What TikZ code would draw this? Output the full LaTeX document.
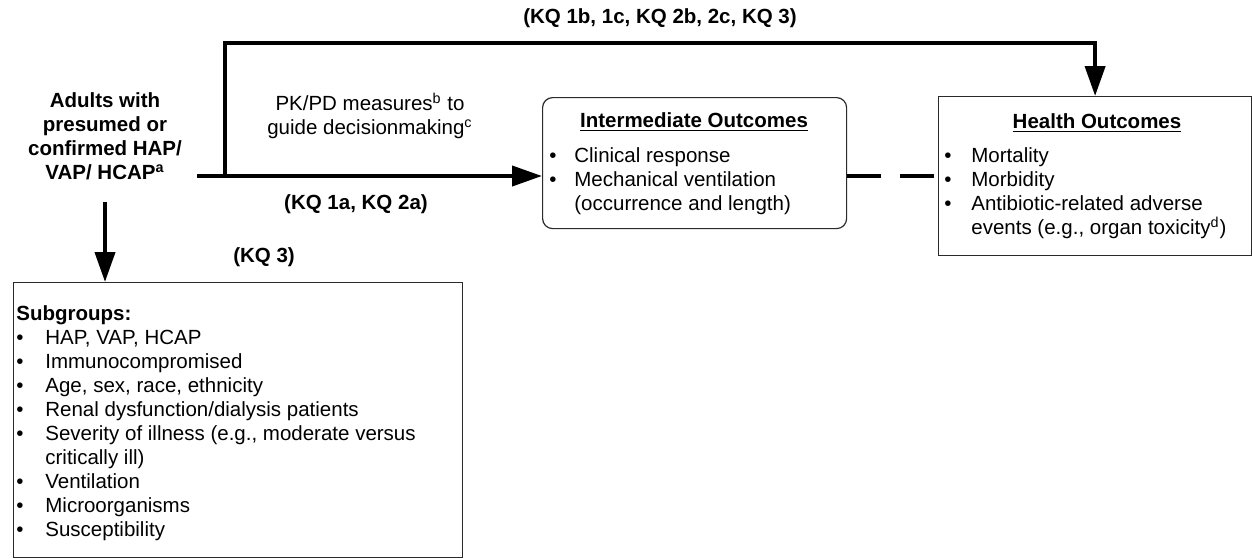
\documentclass[tikz,border=0pt]{standalone}
\usepackage{fontspec}
\setmainfont{Liberation Sans}
\usetikzlibrary{positioning, arrows.meta, calc}
\definecolor{clrline}{HTML}{000000}
\definecolor{clrframe}{HTML}{2A2A2A}
\definecolor{clrtext}{HTML}{000000}

\begin{document}
\begin{tikzpicture}[
    x=0.5pt, y=-0.5pt,
    every node/.style={font=\fontsize{10.25}{12}\selectfont, text=clrtext},
    box/.style={draw=clrframe, line width=0.6pt, inner sep=0, anchor=north west},
    arrow/.style={-{Triangle[length=15pt, width=10pt]}, color=clrline, line width=2pt},
    dashline/.style={color=clrline, line width=2pt, dash pattern=on 17pt off 9.5pt},
    kqlabel/.style={font=\fontsize{10.25}{12}\selectfont\bfseries},
    listtext/.style={inner sep=0, anchor=base west, align=left},
    title/.style={inner sep=0, anchor=base, font=\fontsize{10.25}{12}\selectfont\bfseries},
]
\useasboundingbox (0,0) rectangle (1252,558);
% boxes
\node[box, rounded corners=5pt, minimum width=152pt, minimum height=65.5pt] (n_3) at (542,97) {};
\node[box, minimum width=156.5pt, minimum height=79.5pt] (n_4) at (938,96) {};
\node[box, minimum width=224.5pt, minimum height=137.5pt] (n_5) at (13,282) {};
% population
\node[align=center, inner sep=0, font=\fontsize{10.25}{12}\selectfont\bfseries] (n_1) at (105,136.5)
  {Adults with\\presumed or\\confirmed HAP/\\VAP/ HCAP\textsuperscript{a}};
\node[align=center, inner sep=0] (n_2) at (370,116)
  {PK/PD measures\textsuperscript{b} to\\guide decisionmaking\textsuperscript{c}};
% box contents
\node[title] (n_3_title) at (694,127) {\underline{Intermediate Outcomes}};
\node[listtext] (n_3_list) at (549,162) {\begin{tabular}[t]{@{}p{12.5pt}@{}l@{}}
  \textbullet & Clinical response\\
  \textbullet & Mechanical ventilation\\
              & (occurrence and length)
\end{tabular}};
\node[title] (n_4_title) at (1097,128) {\underline{Health Outcomes}};
\node[listtext] (n_4_list) at (944,162) {\begin{tabular}[t]{@{}p{13.5pt}@{}l@{}}
  \textbullet & Mortality\\
  \textbullet & Morbidity\\
  \textbullet & Antibiotic-related adverse\\
              & events (e.g., organ toxicity\textsuperscript{d})
\end{tabular}};
\node[listtext] (n_5_list) at (16,320) {\begin{tabular}[t]{@{}p{14.5pt}@{}l@{}}
  \multicolumn{2}{@{}l@{}}{\textbf{Subgroups:}}\\
  \textbullet & HAP, VAP, HCAP\\
  \textbullet & Immunocompromised\\
  \textbullet & Age, sex, race, ethnicity\\
  \textbullet & Renal dysfunction/dialysis patients\\
  \textbullet & Severity of illness (e.g., moderate versus\\
              & critically ill)\\
  \textbullet & Ventilation\\
  \textbullet & Microorganisms\\
  \textbullet & Susceptibility
\end{tabular}};
% key question labels
\node[kqlabel] (kq_1) at (660,18) {(KQ 1b, 1c, KQ 2b, 2c, KQ 3)};
\node[kqlabel] (kq_2) at (356,204) {(KQ 1a, KQ 2a)};
\node[kqlabel] (kq_3) at (264,257) {(KQ 3)};
% connectors
\coordinate (c_start) at (197,176);
\coordinate (c_branch) at (225,176);
\coordinate (c_top) at (225,43);
\coordinate (c_down) at (105,202);
\draw[arrow] (c_start) -- (c_start -| n_3.west);
\draw[arrow] (c_branch) -- (c_top) -| (n_4.north);
\draw[arrow] (c_down) -- (c_down |- n_5.north);
\draw[dashline] (n_3.east |- c_start) -- (n_4.west |- c_start);
\end{tikzpicture}
\end{document}
